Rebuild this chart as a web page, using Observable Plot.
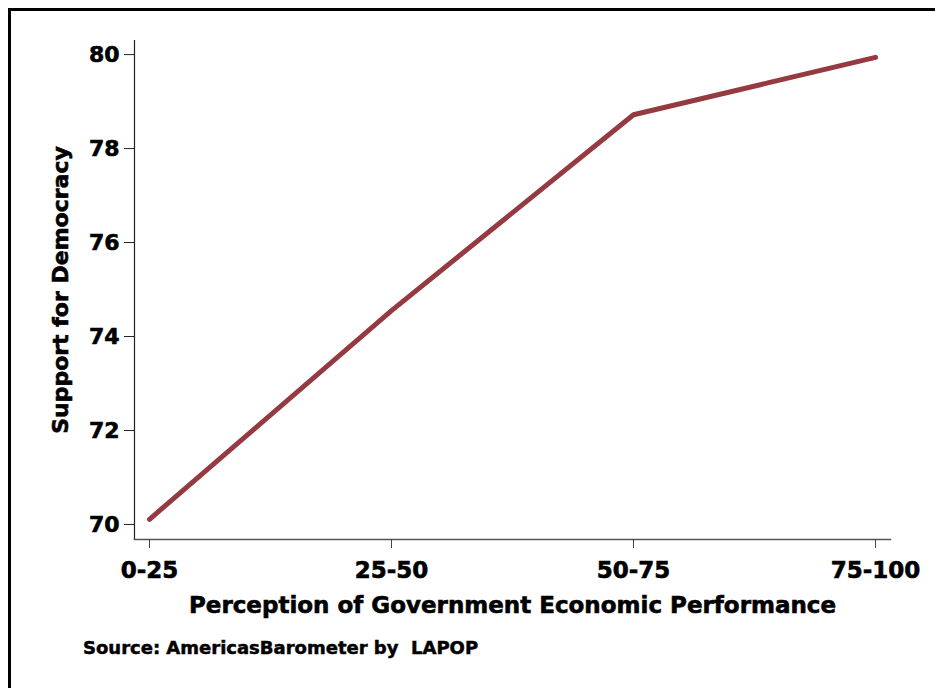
<!DOCTYPE html>
<html>
<head>
<meta charset="utf-8">
<script src="https://cdn.jsdelivr.net/npm/d3@7"></script>
<script src="https://cdn.jsdelivr.net/npm/@observablehq/plot@0.6"></script>
<style>
  html, body { margin: 0; padding: 0; background: #fff; }
  #wrap { position: relative; width: 935px; height: 688px; overflow: hidden; background: #fff; }
  #border { position: absolute; left: 8px; top: 8px; width: 1000px; height: 1000px; border: 3px solid #000; box-sizing: border-box; }
  #chart { position: absolute; left: 0; top: 0; }
  #chart svg text { stroke: #000; stroke-width: 0.6px; paint-order: stroke; }
  #caption { position: absolute; left: 83px; top: 637px; font-family: "DejaVu Sans", sans-serif; font-weight: bold; font-size: 18px; white-space: pre; color: #000; -webkit-text-stroke: 0.5px #000; }
</style>
</head>
<body>
<div id="wrap">
  <div id="border"></div>
  <div id="chart"></div>
  <div id="caption"></div>
</div>
<script>
const categories = ["0-25", "25-50", "50-75", "75-100"];
const support = [70.11, 74.55, 78.72, 79.94];
const yTicks = [70, 72, 74, 76, 78, 80];
const xTitle = "Perception of Government Economic Performance";
const yTitle = "Support for Democracy";
const source = "Source: AmericasBarometer by  LAPOP";

const data = categories.map((c, i) => ({cat: c, val: support[i]}));
const font = "'DejaVu Sans', sans-serif";

const plot = Plot.plot({
  width: 935,
  height: 630,
  marginLeft: 134,
  marginRight: 45,
  marginTop: 40,
  marginBottom: 91,
  style: {fontFamily: font, fontWeight: "bold", fontSize: "22px", color: "#000", background: "transparent"},
  x: {type: "point", domain: categories, range: [148, 875], padding: 0},
  y: {domain: [69.68, 80.3]},
  marks: [
    Plot.frame({anchor: "left", stroke: "#222", strokeWidth: 1.2}),
    Plot.frame({anchor: "bottom", stroke: "#555", strokeWidth: 1.5}),
    Plot.axisY({ticks: yTicks, tickSize: 10, tickPadding: 5, tickFormat: d => String(d), stroke: "#222",
      label: yTitle, labelAnchor: "center", labelArrow: false, labelOffset: 82, fontSize: 22}),
    Plot.axisX({tickSize: 9, tickPadding: 13, stroke: "#444",
      label: xTitle, labelAnchor: "center", labelArrow: false, labelOffset: 73, fontSize: 23}),
    Plot.line(data, {x: "cat", y: "val", stroke: "#953a40", strokeWidth: 5, strokeLinecap: "round", strokeLinejoin: "round"})
  ]
});
document.getElementById("chart").appendChild(plot);
document.getElementById("caption").textContent = source;
</script>
</body>
</html>
